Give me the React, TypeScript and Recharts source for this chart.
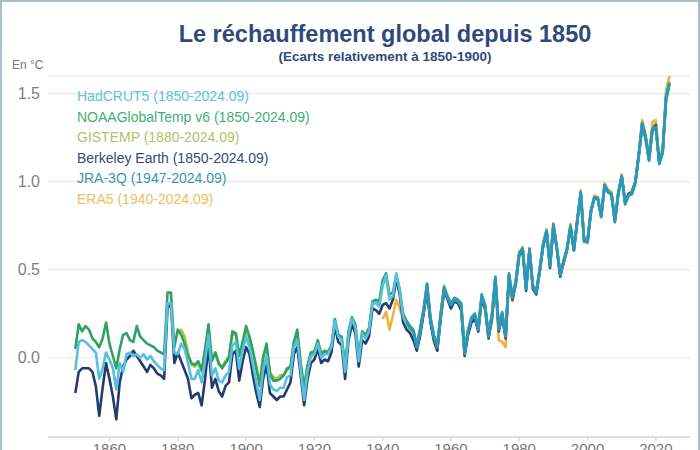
import React from 'react';
import { LineChart, Line, XAxis, YAxis, CartesianGrid, Legend } from 'recharts';

const FIRST_YEAR = 1850;
const GISTEMP_START = 1880;
const ERA5_START = 1940;
const JRA_START = 1947;
const X_TICKS = [1860, 1880, 1900, 1920, 1940, 1960, 1980, 2000, 2020];
const Y_TICKS = [0, 0.5, 1, 1.5];

const HADCRUT5 = [
  -0.07, 0.09, 0.10, 0.09, 0.07, 0.05, 0.03, -0.12, -0.06, 0.03,
  -0.01, -0.06, -0.18, -0.03, -0.08, 0.02, 0.03, 0.01, 0.02, 0.00,
  0.02, -0.01, 0.01, -0.02, -0.04, -0.06, -0.07, 0.31, 0.31, 0.03,
  0.02, 0.08, 0.05, -0.03, -0.12, -0.12, -0.07, -0.14, -0.02, 0.13,
  -0.10, -0.06, -0.13, -0.14, -0.10, -0.08, 0.07, 0.09, -0.06, 0.04,
  0.12, 0.06, -0.04, -0.14, -0.24, -0.07, 0.01, -0.15, -0.18, -0.19,
  -0.17, -0.17, -0.11, -0.10, 0.06, 0.10, -0.07, -0.24, -0.08, 0.01,
  0.02, 0.08, 0.00, 0.02, 0.02, 0.06, 0.21, 0.12, 0.10, -0.08,
  0.13, 0.22, 0.17, -0.02, 0.14, 0.11, 0.15, 0.31, 0.31, 0.29,
  0.41, 0.47, 0.33, 0.35, 0.48, 0.38, 0.23, 0.19, 0.17, 0.15,
  0.06, 0.15, 0.27, 0.41, 0.22, 0.12, 0.06, 0.24, 0.40, 0.34,
  0.30, 0.33, 0.32, 0.29, 0.03, 0.15, 0.22, 0.24, 0.16, 0.35,
  0.29, 0.12, 0.24, 0.45, 0.16, 0.25, 0.12, 0.47, 0.34, 0.43,
  0.59, 0.62, 0.39, 0.61, 0.40, 0.37, 0.50, 0.64, 0.72, 0.52,
  0.75, 0.62, 0.47, 0.55, 0.62, 0.74, 0.61, 0.78, 0.94, 0.66,
  0.66, 0.83, 0.91, 0.90, 0.80, 0.98, 0.94, 0.93, 0.77, 0.93,
  1.03, 0.88, 0.92, 0.93, 0.99, 1.15, 1.33, 1.25, 1.12, 1.30,
  1.31, 1.10, 1.17, 1.48, 1.56,
];

const NOAA = [
  0.05, 0.19, 0.15, 0.18, 0.16, 0.11, 0.09, 0.06, 0.11, 0.20,
  0.08, 0.01, -0.06, 0.05, 0.13, 0.14, 0.10, 0.09, 0.18, 0.12,
  0.10, 0.08, 0.07, 0.06, 0.04, 0.03, 0.02, 0.37, 0.37, 0.06,
  0.16, 0.13, 0.08, 0.01, -0.03, -0.04, -0.02, -0.07, 0.05, 0.19,
  -0.02, 0.03, -0.03, -0.06, -0.03, 0.00, 0.15, 0.14, 0.01, 0.09,
  0.18, 0.12, 0.04, -0.06, -0.16, 0.00, 0.08, -0.09, -0.13, -0.13,
  -0.12, -0.10, -0.06, -0.05, 0.09, 0.16, -0.03, -0.18, -0.04, 0.03,
  0.03, 0.10, 0.02, 0.04, 0.03, 0.07, 0.22, 0.13, 0.12, -0.05,
  0.15, 0.23, 0.19, 0.01, 0.15, 0.13, 0.17, 0.32, 0.33, 0.32,
  0.44, 0.48, 0.36, 0.37, 0.47, 0.39, 0.25, 0.21, 0.18, 0.16,
  0.07, 0.17, 0.28, 0.42, 0.23, 0.13, 0.07, 0.25, 0.39, 0.35,
  0.31, 0.34, 0.33, 0.31, 0.05, 0.16, 0.23, 0.25, 0.18, 0.36,
  0.30, 0.14, 0.25, 0.46, 0.18, 0.26, 0.14, 0.48, 0.35, 0.44,
  0.60, 0.61, 0.40, 0.62, 0.41, 0.38, 0.51, 0.65, 0.72, 0.53,
  0.76, 0.63, 0.48, 0.55, 0.62, 0.75, 0.62, 0.79, 0.93, 0.67,
  0.67, 0.84, 0.90, 0.91, 0.81, 0.97, 0.95, 0.92, 0.78, 0.94,
  1.02, 0.87, 0.92, 0.94, 1.00, 1.14, 1.31, 1.24, 1.12, 1.29,
  1.30, 1.11, 1.16, 1.46, 1.55,
];

const GISTEMP = [
  0.14, 0.16, 0.12, 0.03, -0.04, -0.05, -0.03, -0.08, 0.04, 0.17,
  -0.01, 0.03, -0.04, -0.05, -0.02, 0.01, 0.14, 0.13, 0.02, 0.08,
  0.16, 0.11, 0.03, -0.05, -0.14, 0.01, 0.06, -0.08, -0.11, -0.12,
  -0.10, -0.10, -0.07, -0.06, 0.08, 0.14, -0.04, -0.15, -0.06, 0.03,
  0.04, 0.09, 0.03, 0.03, 0.04, 0.06, 0.20, 0.13, 0.11, -0.06,
  0.14, 0.21, 0.18, 0.00, 0.13, 0.12, 0.16, 0.30, 0.32, 0.30,
  0.42, 0.45, 0.34, 0.33, 0.46, 0.36, 0.24, 0.20, 0.16, 0.15,
  0.07, 0.14, 0.26, 0.40, 0.21, 0.13, 0.07, 0.25, 0.41, 0.35,
  0.30, 0.34, 0.33, 0.30, 0.04, 0.14, 0.21, 0.25, 0.17, 0.34,
  0.30, 0.13, 0.23, 0.46, 0.17, 0.24, 0.13, 0.46, 0.35, 0.44,
  0.60, 0.63, 0.40, 0.62, 0.41, 0.38, 0.49, 0.64, 0.73, 0.53,
  0.76, 0.63, 0.48, 0.54, 0.63, 0.76, 0.62, 0.77, 0.95, 0.67,
  0.67, 0.84, 0.92, 0.91, 0.81, 0.99, 0.95, 0.94, 0.78, 0.94,
  1.04, 0.89, 0.93, 0.94, 1.00, 1.16, 1.34, 1.26, 1.13, 1.31,
  1.33, 1.11, 1.18, 1.49, 1.57,
];

const BERKELEY = [
  -0.20, -0.08, -0.06, -0.06, -0.06, -0.08, -0.16, -0.33, -0.17, -0.03,
  -0.12, -0.22, -0.35, -0.14, -0.05, -0.01, 0.01, 0.04, 0.01, -0.02,
  -0.05, -0.08, -0.04, -0.06, -0.09, -0.10, -0.12, 0.28, 0.31, -0.03,
  0.03, -0.02, -0.07, -0.12, -0.23, -0.21, -0.20, -0.27, -0.12, 0.07,
  -0.17, -0.12, -0.19, -0.22, -0.16, -0.14, 0.02, 0.04, -0.13, -0.02,
  0.06, 0.02, -0.10, -0.20, -0.28, -0.12, -0.04, -0.20, -0.22, -0.24,
  -0.22, -0.22, -0.18, -0.14, 0.02, 0.06, -0.10, -0.27, -0.12, -0.03,
  -0.01, 0.05, -0.03, -0.01, -0.02, 0.03, 0.18, 0.09, 0.07, -0.12,
  0.10, 0.19, 0.14, -0.05, 0.10, 0.08, 0.12, 0.28, 0.27, 0.25,
  0.30, 0.31, 0.28, 0.33, 0.45, 0.36, 0.20, 0.16, 0.14, 0.10,
  0.04, 0.13, 0.25, 0.38, 0.20, 0.10, 0.04, 0.22, 0.38, 0.33,
  0.28, 0.32, 0.31, 0.27, 0.01, 0.13, 0.20, 0.22, 0.15, 0.33,
  0.28, 0.11, 0.22, 0.44, 0.15, 0.23, 0.11, 0.46, 0.33, 0.42,
  0.58, 0.61, 0.38, 0.61, 0.39, 0.36, 0.49, 0.63, 0.71, 0.51,
  0.74, 0.62, 0.46, 0.54, 0.61, 0.74, 0.61, 0.77, 0.93, 0.66,
  0.66, 0.83, 0.91, 0.90, 0.80, 0.98, 0.94, 0.93, 0.78, 0.93,
  1.03, 0.88, 0.93, 0.94, 1.00, 1.15, 1.33, 1.25, 1.13, 1.30,
  1.32, 1.11, 1.17, 1.48, 1.56,
];

const ERA5 = [
  0.22, 0.26, 0.16, 0.24, 0.33, 0.28, 0.22, 0.20, 0.16, 0.14,
  0.05, 0.14, 0.26, 0.37, 0.21, 0.09, 0.04, 0.23, 0.38, 0.35,
  0.30, 0.32, 0.31, 0.28, 0.02, 0.14, 0.21, 0.23, 0.15, 0.33,
  0.27, 0.11, 0.21, 0.42, 0.10, 0.09, 0.06, 0.44, 0.32, 0.42,
  0.59, 0.62, 0.39, 0.62, 0.40, 0.37, 0.50, 0.65, 0.73, 0.52,
  0.76, 0.63, 0.47, 0.55, 0.62, 0.75, 0.61, 0.78, 0.95, 0.66,
  0.65, 0.84, 0.92, 0.91, 0.81, 0.98, 0.95, 0.94, 0.77, 0.93,
  1.04, 0.89, 0.93, 0.95, 1.00, 1.16, 1.35, 1.27, 1.14, 1.34,
  1.35, 1.12, 1.19, 1.52, 1.60,
];

const JRA3Q = [
  0.20, 0.17, 0.15,
  0.06, 0.16, 0.27, 0.42, 0.22, 0.12, 0.06, 0.25, 0.40, 0.34,
  0.30, 0.33, 0.32, 0.29, 0.02, 0.15, 0.22, 0.24, 0.16, 0.35,
  0.29, 0.12, 0.24, 0.45, 0.16, 0.25, 0.12, 0.47, 0.34, 0.43,
  0.59, 0.62, 0.39, 0.61, 0.40, 0.37, 0.50, 0.64, 0.72, 0.52,
  0.75, 0.62, 0.47, 0.55, 0.62, 0.74, 0.61, 0.78, 0.94, 0.66,
  0.66, 0.83, 0.91, 0.90, 0.80, 0.98, 0.94, 0.93, 0.77, 0.93,
  1.03, 0.88, 0.92, 0.93, 0.99, 1.15, 1.33, 1.25, 1.12, 1.30,
  1.31, 1.10, 1.17, 1.48, 1.56,
];

const SERIES = [
  { key: 'hadcrut', label: 'HadCRUT5 (1850-2024.09)', color: '#55c0e0', text: '#62bfdd' },
  { key: 'noaa', label: 'NOAAGlobalTemp v6 (1850-2024.09)', color: '#2ea163', text: '#3fae76' },
  { key: 'gistemp', label: 'GISTEMP (1880-2024.09)', color: '#a8c64a', text: '#b3bf68' },
  { key: 'berkeley', label: 'Berkeley Earth (1850-2024.09)', color: '#243b6e', text: '#34497a' },
  { key: 'jra', label: 'JRA-3Q (1947-2024.09)', color: '#2a96bc', text: '#3a93b6' },
  { key: 'era5', label: 'ERA5 (1940-2024.09)', color: '#f0b23c', text: '#efbd64' },
];

const DRAW_ORDER = ['era5', 'gistemp', 'berkeley', 'noaa', 'hadcrut', 'jra'];

const pick = (arr: number[], start: number, year: number) => {
  const i = year - start;
  return i >= 0 && i < arr.length ? arr[i] : undefined;
};

const DATA = HADCRUT5.map((_, i) => {
  const year = FIRST_YEAR + i;
  return {
    year,
    hadcrut: HADCRUT5[i],
    noaa: NOAA[i],
    berkeley: BERKELEY[i],
    gistemp: pick(GISTEMP, GISTEMP_START, year),
    era5: pick(ERA5, ERA5_START, year),
    jra: pick(JRA3Q, JRA_START, year),
  };
});

const FONT = '"Liberation Sans", Arial, sans-serif';

const renderLegend = () => (
  <div style={{ fontFamily: FONT }}>
    {SERIES.map((s) => (
      <div key={s.key} style={{ color: s.text, fontSize: 14, lineHeight: '20.5px', whiteSpace: 'nowrap' }}>
        {s.label}
      </div>
    ))}
  </div>
);

export default function App() {
  const byKey: Record<string, (typeof SERIES)[number]> = {};
  SERIES.forEach((s) => (byKey[s.key] = s));
  return (
    <div style={{ position: 'absolute', left: 0, top: 0, width: 700, height: 450, background: '#fff', overflow: 'hidden', fontFamily: FONT }}>
      <div style={{ position: 'absolute', left: 0, top: 22, width: 770, textAlign: 'center', fontSize: 23.5, lineHeight: '24px', fontWeight: 700, color: '#2f4a7a' }}>
        Le réchauffement global depuis 1850
      </div>
      <div style={{ position: 'absolute', left: 0, top: 49, width: 770, textAlign: 'center', fontSize: 13.5, lineHeight: '15px', fontWeight: 700, color: '#2f4a7a' }}>
        (Ecarts relativement à 1850-1900)
      </div>
      <div style={{ position: 'absolute', left: 12, top: 58, fontSize: 12, lineHeight: '14px', color: '#777' }}>En °C</div>
      <div style={{ position: 'absolute', left: 0, top: 0 }}>
        <LineChart width={700} height={450} data={DATA} margin={{ top: 76, right: 10, left: 0, bottom: 0 }}>
          <CartesianGrid vertical={false} stroke="#e6e6e6" strokeWidth={1.2} />
          <XAxis
            dataKey="year"
            type="number"
            domain={[1842, 2030]}
            ticks={X_TICKS}
            allowDataOverflow
            height={13}
            tickSize={4}
            stroke="#d8d8d8"
            strokeWidth={1.5}
            tick={{ fill: '#777', fontSize: 15, fontFamily: FONT }}
          />
          <YAxis
            type="number"
            domain={[-0.45, 1.6]}
            ticks={Y_TICKS}
            allowDataOverflow
            width={48}
            axisLine={false}
            tickLine={false}
            tickFormatter={(v: number) => v.toFixed(1)}
            tick={{ fill: '#808080', fontSize: 16, fontFamily: FONT }}
          />
          <Legend
            content={renderLegend}
            layout="horizontal"
            align="center"
            verticalAlign="middle"
            wrapperStyle={{ position: 'absolute', left: 77, top: 86, width: 'auto', height: 'auto' }}
          />
          {DRAW_ORDER.map((k) => (
            <Line
              key={k}
              dataKey={k}
              name={byKey[k].label}
              stroke={byKey[k].color}
              strokeWidth={2.6}
              dot={false}
              activeDot={false}
              isAnimationActive={false}
              strokeLinejoin="round"
            />
          ))}
        </LineChart>
      </div>
      <div style={{ position: 'absolute', left: 0, top: 0, width: 700, height: 460, boxSizing: 'border-box', border: '2px solid #a9c0c6', pointerEvents: 'none' }} />
    </div>
  );
}
